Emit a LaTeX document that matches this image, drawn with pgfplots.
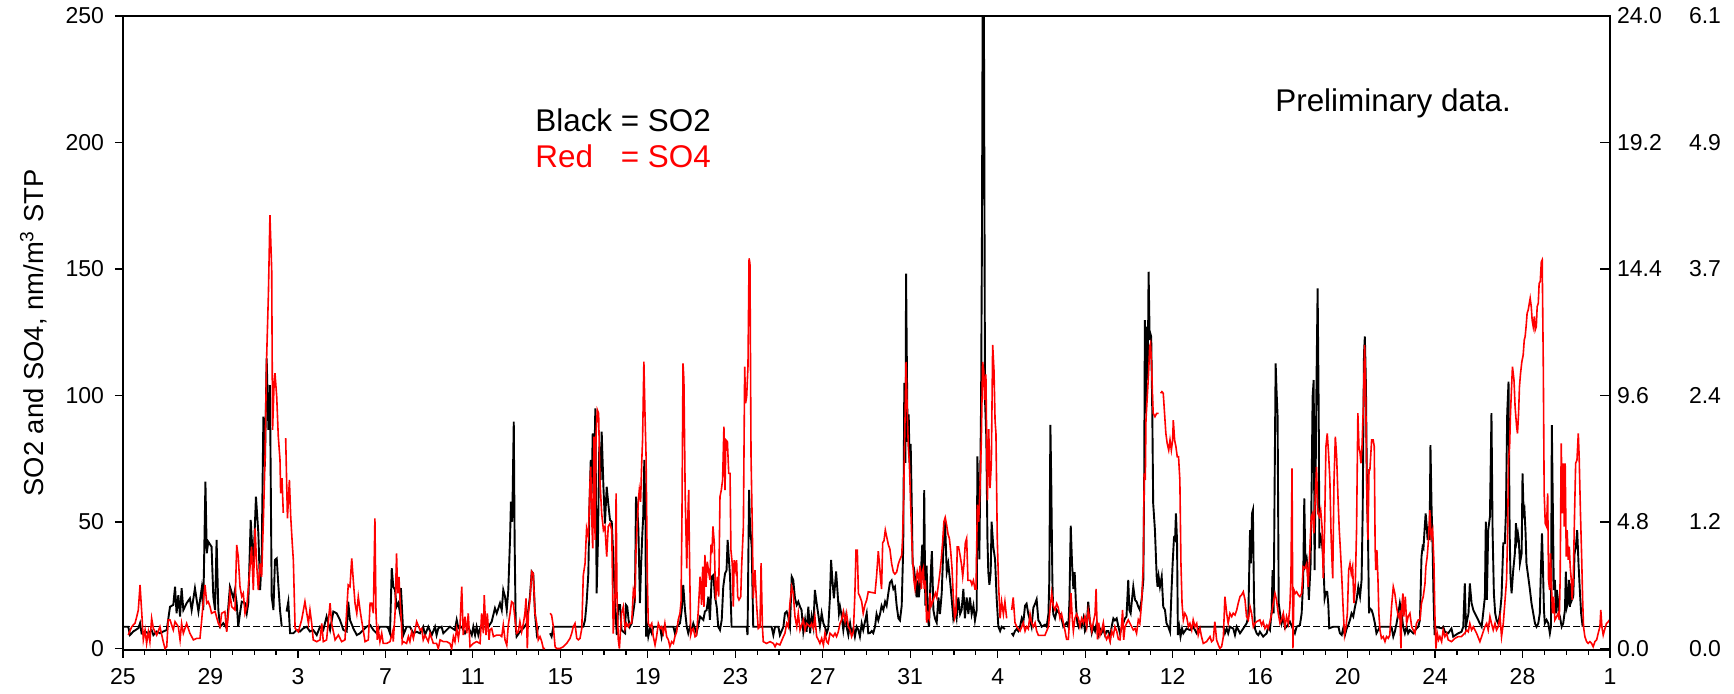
\documentclass[border=0pt]{standalone}
\usepackage{pgfplots}
\pgfplotsset{compat=1.18}
\usepackage{fontspec}
\setmainfont{Liberation Sans}
\usepackage{calc}
\begin{document}
\begin{tikzpicture}
\path[use as bounding box] (-61.5pt,-22pt) rectangle (805.5pt,325pt);
\begin{axis}[
  at={(0,0)}, anchor=south west,
  scale only axis, width=743.5pt, height=317pt,
  xmin=0, xmax=68, ymin=-0.6, ymax=250,
  xtick={0,4,...,68},
  xticklabels={25,29,3,7,11,15,19,23,27,31,4,8,12,16,20,24,28,1},
  minor x tick num=3,
  ytick={0,50,...,250},
  xtick pos=left, ytick pos=left,
  tick align=outside,
  major tick length=4pt, minor tick length=2.5pt,
  every tick/.style={black, line width=0.6pt},
  axis line style={line width=0.7pt},
  ticklabel style={font=\fontsize{11.5}{13}\selectfont},
  xticklabel style={font=\fontsize{11.5}{13}\selectfont, yshift=-4pt, inner sep=1pt},
  /pgf/number format/assume math mode=true,
  yticklabel style={xshift=-2pt},
  ylabel={SO2 and SO4, nm/m\textsuperscript{3} STP},
  ylabel style={font=\fontsize{13.7}{16}\selectfont, at={(axis description cs:-0.060,0.5)}, anchor=center},
  unbounded coords=jump,
  mark=none,
]
\addplot[black, line width=0.7pt, dash pattern=on 3.5pt off 1.5pt, forget plot] coordinates {(0,8.6)(68,8.6)};
\addplot[black, line width=0.95pt, mark=none] coordinates {
(0.02,8.6)(0.24,8.6)(0.32,5.3)(0.47,6.7)(0.70,8.0)(0.78,10)(0.85,6)(1.01,6.7)(1.16,6)(1.31,7.3)(1.39,5.3)(1.54,6.7)(1.69,6)(1.84,6.7)(2.00,7.3)(2.15,16.5)(2.30,17.2)(2.38,24.4)(2.45,13.9)(2.53,21.1)(2.61,12.6)(2.68,23.8)(2.76,15.2)(2.91,17.9)(3.06,19.8)(3.14,15.2)(3.29,23.8)(3.45,14.6)(3.60,23.8)(3.67,15.2)(3.77,65.9)(3.83,37.6)(3.90,42.2)(4.05,40.2)(4.13,20.5)(4.21,15.2)(4.28,42.9)(4.36,15.2)(4.44,8.6)(4.59,10)(4.74,8)(4.89,24.4)(5.05,19.8)(5.12,23.1)(5.20,17.9)(5.27,8.6)(5.35,13.9)(5.43,18.5)(5.58,17.9)(5.66,13.9)(5.73,17.9)(5.84,50.8)(5.96,32.3)(6.08,60.0)(6.19,45.5)(6.27,23.1)(6.34,35)(6.42,91.6)(6.49,71.9)(6.57,114.7)(6.65,86.4)(6.72,104.1)(6.80,20.5)(6.88,15.2)(6.95,35)(7.03,35.6)(7.10,25.7)(7.18,15.2)(7.26,8.6)(7.35,nan)(7.48,14.6)(7.56,18.5)(7.64,6)(7.79,6)(7.94,7.3)(8.09,6.7)(8.25,8)(8.40,8.6)(8.55,6.7)(8.70,7.3)(8.86,5.3)(9.01,8.6)(9.16,7.3)(9.31,12.6)(9.47,7.3)(9.62,14.6)(9.77,13.9)(9.92,11.3)(10.08,7.3)(10.23,6.7)(10.30,18.5)(10.38,11.3)(10.53,8)(10.69,5.3)(10.84,6)(10.99,7.3)(11.14,8.6)
(11.30,9.3)(11.45,7.3)(11.60,6)(11.75,8.6)(12.06,8.6)(12.13,8)(12.21,6)(12.29,31.7)(12.36,24.4)(12.44,23.1)(12.51,16.5)(12.59,17.9)(12.67,13.9)(12.71,23.8)(12.77,13.9)(12.82,5.3)(12.97,8.6)(13.12,8.6)(13.28,6)(13.43,6.6)(13.58,6)(13.73,8.6)(13.81,5.3)(13.96,8.6)(14.12,5.3)(14.27,8.6)(14.34,5.3)(14.42,8)(14.57,8.6)(14.65,6)(14.80,7.3)(14.95,8.6)(15.18,7.3)(15.26,11.3)(15.34,8)(15.49,8.6)(15.64,6)(15.79,8.6)(15.95,5.3)(16.02,8.6)(16.10,5.3)(16.17,8.6)(16.25,5.3)(16.33,8)(16.48,8.6)(16.71,8.6)(16.86,10.6)(17.01,15.9)(17.09,13.9)(17.24,17.9)(17.32,15.2)(17.39,23.1)(17.47,20.5)(17.55,15.2)(17.62,23.1)(17.70,43.5)(17.74,58)(17.80,50.1)(17.87,89.7)(17.91,41.6)(17.96,8.6)(18.00,4.7)(18.15,6.6)(18.31,8)(18.46,9.9)(18.61,20.5)(18.69,30.4)(18.76,29.6)(18.84,13.9)(18.92,6)(18.99,8.6)(19.2,nan)(19.53,6)(19.60,4.7)(19.68,8.6)(21.05,8.6)(21.13,11.3)(21.20,17.9)(21.28,29.6)(21.33,56)(21.39,74.5)(21.43,61.3)(21.48,85)(21.54,66.6)(21.60,94.9)(21.66,21.8)(21.72,42.9)(21.78,79.8)(21.84,66.6)(21.89,85.7)(21.97,63.9)(22.04,49.4)(22.12,63.9)(22.19,57.4)(22.27,50.8)(22.35,50.1)(22.42,36.3)(22.50,17.9)(22.58,5.3)(22.65,17.2)
(22.73,17.2)(22.80,7.3)(22.88,6.6)(22.96,6)(23.00,17.2)(23.06,16.5)(23.12,11.3)(23.18,8.6)(23.26,9.9)(23.34,14.6)(23.41,19.2)(23.46,60)(23.52,55.4)(23.57,46.8)(23.64,17.9)(23.69,32.3)(23.75,45.5)(23.79,52.1)(23.84,74.5)(23.89,53.4)(23.92,4.7)(23.98,8)(24.02,4.7)(24.10,8)(24.18,6)(24.25,8.6)(24.56,8.6)(24.63,4.7)(24.71,8.6)(25.17,8.6)(25.24,6)(25.32,8.6)(25.47,9.9)(25.55,15.2)(25.62,25.1)(25.70,15.2)(25.78,8.6)(25.85,6)(25.93,8.6)(26.00,7.3)(26.08,9.9)(26.23,6)(26.39,12.6)(26.54,11.3)(26.61,14.6)(26.69,15.2)(26.77,20.5)(26.84,11.3)(26.92,28.3)(27.00,29)(27.07,20.5)(27.15,16.5)(27.22,8.6)(27.30,7.3)(27.38,11.3)(27.45,24.4)(27.53,29.6)(27.60,30.9)(27.65,42.9)(27.71,35)(27.76,28.4)(27.83,8.6)(28.52,8.6)(28.56,5.3)(28.63,62.7)(28.67,49.5)(28.75,40.2)(28.82,8.6)(29.66,8.6)(29.74,5.3)(29.82,8.6)(29.97,8.6)(30.04,5.3)(30.20,8.6)(30.27,13.9)(30.35,14.6)(30.42,12.6)(30.50,8.6)(30.58,28.4)(30.65,27.1)(30.73,19.8)(30.81,17.2)(30.88,18.5)(30.96,16.5)(31.03,15.2)(31.11,6.6)(31.19,11.3)(31.26,6.6)(31.34,16.5)(31.42,6)(31.49,12.6)(31.57,8.6)(31.64,23.1)(31.72,17.9)(31.80,13.2)(31.87,8.6)(31.95,13.9)(32.03,9.9)(32.10,8.6)(32.18,6)(32.25,7.9)(32.33,20.5)(32.38,35)(32.44,27.1)(32.51,19.8)(32.61,30.4)(32.67,23.1)(32.74,13.9)(32.79,16.5)(32.86,13.2)(32.94,7.3)(33.02,12.6)(33.09,8.6)(33.17,5.3)(33.25,9.9)(33.32,6)(33.40,8)(33.47,4.7)(33.55,8.6)(33.63,7.3)(33.70,4.7)(33.78,9.9)(33.85,7.3)(34.01,13.9)(34.08,6)
(34.16,6.1)(34.24,6.9)(34.31,6.1)(34.39,8.6)(34.46,13.6)(34.54,11.1)(34.62,13.6)(34.69,16.9)(34.77,15.2)(34.85,18.5)(34.92,16.9)(35.00,21.9)(35.07,26.0)(35.15,26.9)(35.23,23.5)(35.30,24.4)(35.38,16.9)(35.46,11.9)(35.53,11.1)(35.61,16.9)(35.68,40.1)(35.73,105)(35.78,73.4)(35.81,148.2)(35.84,118.3)(35.88,81.7)(35.93,92.5)(35.97,73.4)(36.02,80.9)(36.07,56.8)(36.11,33.5)(36.17,31.8)(36.23,26.9)(36.29,20.2)(36.34,26.9)(36.39,20.2)(36.45,25.2)(36.49,30.2)(36.55,41)(36.60,26.9)(36.64,62.6)(36.69,16.9)(36.75,32.7)(36.80,11.9)(36.86,8.6)(36.90,20.2)(36.95,31.8)(36.99,38.5)(37.06,15.2)(37.13,11.9)(37.21,10.2)(37.29,20.2)(37.36,13.6)(37.44,21.9)(37.51,38.5)(37.59,50.9)(37.67,30.2)(37.74,33.5)(37.82,26.9)(37.89,20.2)(37.97,11.9)(38.05,15.2)(38.12,11.9)(38.20,20.2)(38.28,13.6)(38.35,15.2)(38.43,23.5)(38.50,11.9)(38.58,20.2)(38.66,13.6)(38.73,20.2)(38.81,13.6)(38.89,16.9)(38.96,11.1)(39.04,15.2)(39.07,75.9)(39.11,63.4)(39.16,35.2)(39.24,96.7)(39.28,163.2)(39.31,250)(39.37,250)(39.42,98.3)(39.48,83.4)(39.53,43.5)(39.57,30.2)(39.62,25.2)(39.68,30.2)(39.72,50.1)(39.80,40.1)(39.88,35.2)(39.95,20.2)(40.03,8.6)(40.11,6.9)(40.18,8.6)(40.33,7.7)(40.48,nan)(40.64,6.1)(40.71,5.2)(40.79,6.9)(40.87,7.7)(40.94,6.9)(41.02,8.6)(41.10,11.9)(41.17,10.2)(41.25,16.9)(41.32,17.7)(41.40,13.6)(41.48,11.1)(41.55,8.6)(41.63,16.1)(41.71,17.7)(41.78,19.4)(41.86,11.1)(41.93,10.2)(42.01,8.6)(42.16,9.4)(42.24,8.6)(42.32,13.6)(42.36,26.9)(42.41,88.4)(42.45,65.1)(42.50,26.9)(42.54,13.6)(42.62,11.9)(42.70,15.2)(42.77,14.4)(42.85,13.6)(42.92,11.9)(43.00,8.6)(43.15,10.2)(43.23,8.6)(43.28,18.5)(43.34,48.5)(43.40,33.5)(43.46,23.5)(43.52,30.2)(43.58,16.9)(43.64,10.2)(43.70,8.6)(43.76,10.2)(43.84,8.6)(43.92,11.9)(43.99,6.9)(44.07,8.6)(44.14,18.5)(44.22,10.2)(44.30,6.1)(44.37,8.6)(44.45,6.9)(44.53,10.2)(44.60,5.2)(44.68,7.7)(44.75,6.1)(44.83,7.7)(44.91,5.2)(44.98,6.9)(45.06,6.9)(45.14,3.6)(45.21,8.6)(45.29,11.9)(45.36,11.1)(45.44,11.9)(45.52,8.6)
(45.59,6)(45.74,9.9)(45.82,11.9)(45.89,12.6)(45.97,27.1)(46.02,15.2)(46.08,13.9)(46.14,19.2)(46.20,24.4)(46.28,19.2)(46.35,18.5)(46.43,16.5)(46.50,15.2)(46.58,19.2)(46.66,27.1)(46.70,68.6)(46.73,129.8)(46.78,92.9)(46.81,127.2)(46.86,106.1)(46.90,148.9)(46.95,121.9)(46.98,124.5)(47.02,123.2)(47.07,92.9)(47.11,57.4)(47.19,46.8)(47.27,28.4)(47.31,24.4)(47.36,28.4)(47.42,24.4)(47.50,28.4)(47.57,16.5)(47.65,15.2)(47.72,9.9)(47.80,8.6)(47.88,6.6)(47.95,23.1)(48.00,33.6)(48.06,43.5)(48.11,42.9)(48.15,53.4)(48.20,42.9)(48.24,5.3)(48.30,8.6)(48.36,4.7)(48.43,7.9)(48.49,6)(48.64,7.9)(48.79,7.3)(48.94,8.6)(49.10,6)(49.25,8.6)(50.32,8.6)(50.39,6)(50.47,7.9)(50.54,6)(50.62,8.6)(50.77,7.9)(50.85,5.3)(50.93,8.6)(51.08,6)(51.23,7.9)(51.38,9.9)(51.46,12.6)(51.54,46.8)(51.58,33.6)(51.63,53.4)(51.67,54.7)(51.72,20.5)(51.76,8)(51.84,6)(51.92,5.3)(51.99,6.6)(52.14,4.7)(52.30,6)(52.37,8.6)(52.45,7.3)(52.53,15.2)(52.57,31)(52.62,13.9)(52.66,60.6)(52.71,112.7)(52.75,102.2)(52.80,91.6)(52.85,17.9)(52.91,13.9)(52.98,9.9)(53.06,12.6)(53.14,8)(53.21,8.6)(53.36,10.6)(53.52,7.3)(53.59,6)(53.67,8.6)(53.82,9.2)(53.90,13.9)(53.97,27.1)(54.02,59.3)(54.07,33.6)(54.13,35.6)(54.17,32.3)(54.23,19.2)(54.31,33.6)(54.36,66.6)(54.40,99.5)(54.45,106.1)(54.49,31)(54.54,69.2)(54.58,106.1)(54.63,142.3)(54.68,92.9)(54.71,39.6)(54.75,44.9)(54.81,43.5)(54.89,35.6)(54.95,19.8)(55.01,22.4)(55.07,22.4)(55.12,17.2)(55.16,8)(55.35,8.6)(55.58,8.6)(55.65,6)(55.73,5.3)(55.80,7.9)(55.88,5.3)(55.96,7.9)(56.03,9.2)(56.11,11.3)(56.18,13.9)(56.26,12.6)(56.34,16.5)(56.41,19.2)(56.49,24.4)(56.57,20.5)(56.64,27.1)(56.69,53.4)(56.75,116.6)(56.79,123.3)(56.84,103.5)(56.89,58.7)(56.93,46.8)(56.98,13.9)
(57.02,15.9)(57.10,15.2)(57.17,13.2)(57.25,9.9)(57.32,6)(57.48,8.6)(58.01,8.6)(58.09,4.7)(58.16,6.6)(58.24,9.9)(58.32,13.9)(58.39,17.9)(58.47,13.9)(58.54,8.6)(58.62,6)(58.70,8.6)(58.77,6)(58.85,7.3)(59.00,6)(59.15,7.9)(59.23,8.6)(59.31,11.3)(59.38,36.3)(59.43,40.2)(59.47,39.6)(59.52,46.8)(59.57,53.4)(59.61,49.4)(59.66,42.9)(59.70,48.2)(59.75,42.9)(59.79,80.4)(59.84,56)(59.89,38.9)(59.93,20.5)(59.98,5.3)(60.02,8.6)(60.30,8)(60.37,8.6)(60.45,6.6)(60.60,6)(60.75,7.9)(60.83,4.7)(61.06,6)(61.21,6.6)(61.29,8.6)(61.36,25.7)(61.41,8.6)(61.47,11.3)(61.53,13.9)(61.59,25.7)(61.67,17.9)(61.75,15.2)(61.82,13.9)(61.90,12.6)(61.97,11.3)(62.05,9.9)(62.13,8.6)(62.20,13.9)(62.28,20.5)(62.32,50.1)(62.37,19.2)(62.43,46.8)(62.51,52.1)(62.58,93)(62.63,46.8)(62.69,21.8)(62.75,13.9)(62.81,11.3)(62.89,9.9)(62.97,13.9)(63.04,20.5)(63.12,41.6)(63.19,41.6)(63.24,53.4)(63.30,93)(63.36,105.5)(63.41,46.8)(63.45,28.4)(63.50,21.8)(63.57,30.4)(63.65,37.6)(63.70,49.5)(63.74,42.9)(63.79,45.5)(63.83,42.9)(63.88,33.6)(63.96,37.6)(64.00,69.2)(64.05,53.4)(64.09,54.7)(64.14,45.5)(64.18,33.6)(64.26,28.4)(64.34,23.1)(64.41,17.9)(64.49,13.9)(64.57,9.9)(64.64,8.6)(64.72,9.9)(64.79,13.9)(64.84,31)(64.89,45.5)(64.93,33.6)(64.98,15.2)(65.02,9.9)(65.10,11.3)(65.18,9.9)(65.25,6)(65.30,8.6)(65.34,88.3)(65.39,53.4)(65.43,23.1)(65.48,27.1)(65.53,13.9)(65.57,23.1)(65.62,19.2)(65.66,13.9)(65.71,12.6)(65.79,8.6)(65.86,9.9)(65.94,15.2)(65.98,30.4)(66.03,16.5)(66.07,17.9)(66.12,27.1)(66.17,16.5)(66.21,25.7)(66.26,19.2)(66.32,20.5)(66.38,37.6)(66.44,40.2)(66.50,46.8)(66.56,33.6)(66.62,23.1)(66.68,13.9)(66.75,8.6)
};
\addplot[red, line width=0.8pt, mark=none] coordinates {
(0.24,5.3)(0.40,8.6)(0.55,10)(0.63,12.6)(0.70,15.2)(0.78,25.1)(0.85,15.2)(0.93,3.4)(1.01,7.3)(1.08,2)(1.16,6.6)(1.23,2.7)(1.31,11.9)(1.39,7.9)(1.54,5.3)(1.69,8.6)(1.84,2.7)(1.92,0)(2.00,0.7)(2.07,11.3)(2.15,11.3)(2.30,7.3)(2.38,10.6)(2.53,8.6)(2.61,3.4)(2.68,9.9)(2.76,6)(2.91,9.9)(3.06,6)(3.22,3.4)(3.37,4)(3.52,4)(3.60,11.3)(3.67,18.5)(3.75,25.1)(3.83,17.9)(3.90,18.5)(3.98,16.5)(4.05,13.9)(4.21,14.6)(4.36,9.9)(4.44,8.6)(4.51,13.9)(4.66,14.6)(4.74,6.6)(4.82,13.9)(4.89,21.8)(4.97,16.5)(5.12,15.2)(5.20,40.9)(5.27,36.3)(5.35,24.4)(5.43,20.5)(5.50,21.8)(5.58,13.9)(5.66,16.5)(5.73,23.8)(5.88,40.2)(5.96,23.1)(6.04,47.5)(6.11,33.6)(6.19,23.1)(6.27,33.6)(6.34,28.3)(6.42,50.8)(6.49,73.2)(6.57,115.3)(6.65,140.3)(6.72,171.3)(6.80,149.6)(6.84,86.4)(6.91,104.8)(6.95,108.8)(7.03,99.5)(7.10,84)(7.18,74.5)(7.21,61.3)(7.27,67.3)(7.33,53.6)(7.38,nan)(7.44,83.1)(7.52,51.4)(7.61,66.6)(7.67,52.1)(7.74,41.6)(7.79,34.9)(7.87,8)(8.02,6.6)(8.17,11.3)(8.32,18.5)(8.48,9.9)(8.55,15.2)(8.63,9.9)(8.70,3.4)(8.86,2.7)(9.01,3.4)(9.09,9.9)(9.16,2.7)(9.31,3.4)(9.47,17.9)(9.54,9.9)(9.70,3.4)(9.85,5.3)(10.00,2.7)(10.15,3.4)(10.30,25.1)(10.38,24.4)(10.46,35.6)(10.53,27.1)(10.61,17.9)(10.69,13.9)(10.76,20.5)(10.84,15.2)(10.91,11.3)(11.07,2.7)(11.22,3.4)(11.30,17.9)
(11.37,17.9)(11.45,13.9)(11.52,51.4)(11.57,13.9)(11.63,3.4)(11.68,7.3)(11.75,2.7)(11.83,6)(11.90,2)(12.06,2)(12.21,2.7)(12.33,6.6)(12.36,2.7)(12.44,13.9)(12.51,37.6)(12.56,21.8)(12.62,28.3)(12.67,19.2)(12.71,13.9)(12.77,2)(12.82,2.7)(12.97,2)(13.05,4.7)(13.12,2.7)(13.20,6.6)(13.28,4)(13.43,10.6)(13.58,7.3)(13.66,7.9)(13.73,3.4)(13.81,5.3)(13.96,2.7)(14.04,6)(14.19,2)(14.34,2)(14.42,0)(14.50,3.4)(14.65,2.7)(14.80,2.7)(14.95,2)(15.03,0)(15.11,4.7)(15.18,2.7)(15.26,7.9)(15.34,4)(15.41,8.6)(15.49,24.4)(15.56,5.3)(15.64,12.6)(15.72,6)(15.79,13.9)(15.87,0.7)(15.94,1.3)(16.02,2)(16.17,2.7)(16.33,2)(16.40,13.9)(16.48,6)(16.52,21.1)(16.60,5.3)(16.66,13.9)(16.74,3.4)(16.78,7.3)(16.86,7.9)(16.94,4.7)(17.09,5.3)(17.24,5.3)(17.32,4.7)(17.39,9.3)(17.47,3.4)(17.55,1.3)(17.62,9.3)(17.70,13.9)(17.77,18.5)(17.85,17.9)(17.93,11.3)(18.00,6)(18.08,6.6)(18.15,10.6)(18.23,6.6)(18.31,9.9)(18.38,13.9)(18.43,19.8)(18.49,0)(18.54,13.9)(18.61,19.2)(18.69,30.4)(18.76,29.6)(18.84,13.9)(18.92,9.9)(18.99,3.4)(19.07,4.7)(19.15,2.7)(19.22,0)(19.30,0)(19.4,nan)(19.53,13.9)(19.60,13.2)(19.68,8.6)(19.76,0.7)(19.83,0)(19.98,0)(20.14,0.7)(20.29,2)(20.44,4)(20.52,6)(20.59,8.6)(20.67,9.9)(20.75,4)(20.82,3.4)(20.90,4)(20.98,7.9)(21.05,29)(21.13,33.6)(21.20,47.5)(21.28,44.2)(21.36,66.6)(21.39,71.9)(21.43,53.4)(21.48,39.6)(21.54,83.7)(21.59,42.9)(21.63,83.7)(21.69,94.3)(21.75,92.9)(21.81,66.6)(21.89,53.4)(21.97,46.8)(22.04,48.2)(22.12,36.3)(22.19,48.2)(22.27,49.4)(22.35,46.8)(22.42,5.9)(22.50,20.5)(22.55,61.3)(22.59,20.5)(22.65,3.4)(22.70,0)
(22.80,13.9)(22.88,16.5)(22.96,7.9)(23.03,9.9)(23.11,8.6)(23.18,9.9)(23.26,9.9)(23.34,23.1)(23.41,20.5)(23.46,38.9)(23.52,49.5)(23.57,58.7)(23.61,62.6)(23.67,58)(23.72,73.2)(23.76,82.4)(23.82,113.4)(23.87,92.9)(23.92,75.8)(23.98,27)(24.02,9.9)(24.10,8.6)(24.18,9.9)(24.25,4.7)(24.33,1.4)(24.40,4.7)(24.48,9.9)(24.56,7.9)(24.63,8.6)(24.71,6)(24.78,9.9)(24.86,4.7)(24.94,3.4)(25.01,0.7)(25.09,2.7)(25.17,2)(25.24,4.7)(25.32,6.6)(25.39,11.3)(25.47,13.9)(25.52,18.5)(25.56,50.8)(25.61,112.7)(25.65,106.1)(25.71,60)(25.78,31.7)(25.82,49.5)(25.87,62.7)(25.90,40.2)(25.96,5.3)(26.02,7.3)(26.08,7.9)(26.16,4.7)(26.23,5.3)(26.31,15.2)(26.39,28.4)(26.46,17.2)(26.51,32.3)(26.57,16.5)(26.61,37)(26.66,24.4)(26.72,34.3)(26.77,31)(26.84,27.1)(26.89,41)(26.93,37.6)(26.98,48.2)(27.04,41.6)(27.10,19.2)(27.18,28.4)(27.24,20.5)(27.30,60)(27.36,62.6)(27.42,66.6)(27.48,87.7)(27.53,62.6)(27.57,82.4)(27.64,81.7)(27.70,69.2)(27.76,69.2)(27.80,38.9)(27.86,33.6)(27.91,16.5)(27.95,34.9)(28.02,31)(28.06,34.9)(28.11,20.5)(28.17,19.2)(28.25,20.5)(28.29,32.3)(28.37,48.2)(28.43,111.4)(28.47,96.9)(28.52,99.5)(28.58,111.4)(28.63,154.2)(28.67,152.2)(28.72,75.8)(28.78,46.8)(28.82,19.8)(28.90,31)(28.98,16.5)(29.05,7.9)(29.13,8.6)(29.18,33.7)(29.24,8.6)(29.28,2.7)(29.43,2)(29.59,2.7)(29.74,2)(29.82,0.7)(29.89,2)(30.04,1.4)(30.20,4.7)(30.27,6)(30.35,9.9)(30.42,8.6)(30.50,17.9)(30.58,24.4)(30.65,21.8)(30.73,12.6)(30.81,8.6)(30.88,13.9)(30.96,7.3)(31.11,11.3)(31.19,7.3)(31.26,9.9)(31.42,8.6)(31.49,9.9)(31.57,7.9)(31.64,12.6)(31.72,4.7)(31.80,3.4)(31.87,2)(31.95,4)(32.03,1.4)(32.10,6)(32.18,2.7)(32.25,2)(32.33,6)(32.48,4.7)(32.56,6)(32.63,4.7)(32.71,6.6)(32.79,9.9)(32.86,11.3)(32.94,14.6)(33.02,10.6)(33.09,13.9)(33.17,8.6)(33.25,7.3)(33.32,4.7)(33.40,6.6)(33.47,21.8)(33.52,38.9)(33.58,38.9)(33.63,21.8)(33.70,20.5)(33.78,18.5)(33.85,13.9)(33.93,17.2)(34.01,19.2)(34.08,22.4)
(34.39,21.9)(34.46,28.5)(34.54,38.5)(34.59,33.5)(34.65,26.9)(34.69,23.5)(34.74,41.8)(34.80,42.6)(34.86,46.8)(34.92,44.3)(35.00,41)(35.07,39.3)(35.15,33.5)(35.23,30.2)(35.30,29.4)(35.38,30.2)(35.46,33.5)(35.53,35.2)(35.61,36.8)(35.65,43.5)(35.70,60.1)(35.76,90)(35.81,113.3)(35.85,98.3)(35.91,80)(35.96,73.4)(36.02,56.8)(36.07,43.5)(36.11,35.2)(36.17,26.9)(36.22,23.5)(36.26,26)(36.32,30.2)(36.39,26.9)(36.45,32.7)(36.51,23.5)(36.55,30.2)(36.60,31.8)(36.64,23.5)(36.69,26.9)(36.75,10.2)(36.80,13.6)(36.86,11.9)(36.90,21.9)(36.96,16.9)(37.03,18.5)(37.09,20.2)(37.15,21.9)(37.21,20.2)(37.29,25.2)(37.36,30.2)(37.42,35.2)(37.48,41.8)(37.54,50.1)(37.60,51.8)(37.67,48.5)(37.73,45.1)(37.79,43.5)(37.85,38.5)(37.91,31.8)(37.97,20.2)(38.03,11.9)(38.09,13.6)(38.15,40.1)(38.21,40.1)(38.28,36.8)(38.34,33.5)(38.40,28.5)(38.46,33.5)(38.52,41.8)(38.58,43.5)(38.64,26.9)(38.76,26.9)(38.82,25.2)(38.89,26.9)(38.96,23.5)(39.01,23.5)(39.07,56.8)(39.13,50.1)(39.19,63.4)(39.25,81.7)(39.31,113.3)(39.36,109.9)(39.40,98.3)(39.46,108.3)(39.53,58.5)(39.59,86.7)(39.65,63.4)(39.71,73.4)(39.77,120)(39.83,109.9)(39.88,90)(39.92,85)(39.98,43.5)(40.04,25.2)(40.11,11.9)(40.18,18.5)(40.26,13.6)(40.33,18.5)(40.41,11.9)(40.52,nan)(40.64,15.2)(40.71,20.2)(40.79,10.2)(40.87,8.6)(41.02,6.9)(41.10,8.6)(41.17,10.2)(41.25,6.9)(41.32,8.6)(41.40,7.7)(41.48,13.6)(41.55,10.2)(41.63,8.6)(41.71,10.2)(41.78,6.9)(41.86,5.2)(42.01,5.2)(42.16,5.2)(42.24,6.9)(42.32,8.6)(42.39,15.2)(42.47,21.9)(42.54,16.9)(42.62,15.2)(42.70,17.7)(42.77,16.1)(42.85,11.9)(42.92,13.6)(43.00,10.2)(43.08,6.9)(43.15,3.6)(43.23,3.6)(43.31,14.4)(43.35,21.9)(43.41,11.9)(43.46,6.9)(43.53,11.9)(43.61,13.6)(43.69,11.9)(43.76,8.6)(43.84,11.9)(43.92,10.2)(43.99,12.7)(44.07,8.6)(44.14,15.2)(44.22,11.1)(44.30,6.9)(44.37,10.2)(44.45,13.6)(44.50,23.5)(44.56,3.6)(44.62,10.2)(44.68,5.2)(44.75,6.9)(44.83,10.2)(44.91,5.2)(44.98,3.6)(45.06,5.2)(45.14,2.7)(45.21,6.9)(45.29,5.2)(45.36,8.6)(45.44,6.9)(45.52,3.6)
(45.59,3.4)(45.67,9.9)(45.71,15.2)(45.76,3.4)(45.82,8.6)(45.97,11.3)(46.05,9.9)(46.20,7.3)(46.28,7.9)(46.35,6)(46.43,11.3)(46.50,9.9)(46.58,17.9)(46.66,33.6)(46.70,69.2)(46.75,66.6)(46.78,90.3)(46.84,99.5)(46.90,108.8)(46.95,119.3)(46.99,120.6)(47.04,111.4)(47.08,99.5)(47.11,93)(47.19,91.6)(47.27,92.9)(47.36,92.9)(47.40,nan)(47.45,100.9)(47.51,101.5)(47.57,100.9)(47.63,93)(47.69,85)(47.75,81.1)(47.82,78.4)(47.88,82.4)(47.94,78.4)(48.00,82.4)(48.03,90.2)(48.09,82.4)(48.15,79.8)(48.21,75.8)(48.27,75.8)(48.33,66.6)(48.38,33.6)(48.43,17.9)(48.49,11.3)(48.56,13.9)(48.64,12.6)(48.72,8.6)(48.79,9.9)(48.87,7.3)(48.94,11.3)(49.02,8.6)(49.10,9.9)(49.17,5.3)(49.25,7.9)(49.32,4.7)(49.40,2)(49.55,2.7)(49.71,4.7)(49.78,2.7)(49.86,3.4)(49.93,10.6)(50.01,3.4)(50.09,1.4)(50.16,0)(50.24,0.7)(50.32,4.7)(50.39,20.5)(50.47,13.9)(50.54,9.9)(50.62,13.9)(50.70,12.6)(50.77,13.9)(50.85,13.2)(50.93,15.2)(51.00,17.9)(51.08,20.5)(51.15,21.1)(51.23,22.4)(51.31,19.2)(51.38,12.6)(51.46,11.3)(51.54,16.5)(51.61,13.9)(51.69,8.6)(51.76,9.9)(51.84,10.6)(51.99,11.3)(52.07,9.2)(52.14,10.6)(52.22,7.9)(52.30,9.2)(52.37,7.9)(52.45,10.6)(52.53,13.9)(52.60,17.9)(52.68,21.8)(52.75,19.2)(52.83,13.9)(52.91,9.9)(52.98,11.3)(53.06,13.9)(53.14,8.6)(53.21,12.6)(53.29,9.9)(53.36,16.5)(53.41,28.4)(53.46,71.2)(53.50,0)(53.55,23.1)(53.61,21.8)(53.67,22.4)(53.75,21.1)(53.82,20.5)(53.90,21.8)(53.97,32.3)(54.05,31.7)(54.13,33.6)(54.20,24.4)(54.28,40.2)(54.34,52.1)(54.40,53.4)(54.46,45.5)(54.52,59.9)(54.58,71.8)(54.64,53.4)(54.71,52.1)(54.77,54.7)(54.83,48.2)(54.89,27.7)(54.95,48.2)(55.01,79.8)(55.07,85)(55.13,77.1)(55.19,66.6)(55.25,42.9)(55.32,27.7)(55.38,66.6)(55.44,83.7)(55.50,75.8)(55.56,60)(55.62,46.8)(55.68,37.6)(55.74,27.1)(55.80,15.2)(55.86,5.3)(55.93,8.6)(55.99,13.9)(56.05,31)(56.11,33.6)(56.17,29.6)(56.23,32.3)(56.29,17.9)(56.35,24.4)(56.41,46.8)(56.47,93)(56.52,79.8)(56.57,77.1)(56.61,73.2)(56.66,79.8)(56.72,95.6)(56.78,120)(56.82,104.8)(56.89,58.7)(56.93,42.9)(56.98,70.6)
(57.02,70.6)(57.10,82.4)(57.17,82.4)(57.22,79.8)(57.26,40.2)(57.29,31)(57.34,38.9)(57.39,27.1)(57.43,13.9)(57.48,7.3)(57.55,4)(57.63,4.7)(57.71,2.7)(57.78,4.7)(57.86,4)(57.93,5.3)(58.01,16.5)(58.09,24.4)(58.16,21.8)(58.24,16.5)(58.32,12.6)(58.39,13.9)(58.44,0)(58.48,16.5)(58.53,21.8)(58.57,12.6)(58.64,20.5)(58.70,9.9)(58.77,12.6)(58.85,13.9)(58.93,8.6)(59.00,7.3)(59.08,6)(59.15,9.9)(59.23,11.3)(59.31,11.3)(59.38,17.9)(59.46,20.5)(59.54,25.7)(59.58,32.3)(59.64,36.3)(59.70,42.9)(59.76,54.7)(59.82,44.2)(59.89,46.8)(59.95,33.6)(59.99,13.9)(60.04,0)(60.10,6)(60.16,3.4)(60.22,4.7)(60.30,2.7)(60.37,7.3)(60.45,4.7)(60.53,6)(60.60,3.4)(60.75,2.7)(60.91,4)(61.06,4.7)(61.21,4.7)(61.36,6)(61.44,7.3)(61.52,6.6)(61.59,9.9)(61.67,7.3)(61.75,8.6)(61.90,6)(62.05,2.7)(62.13,4.7)(62.20,6.6)(62.28,8.6)(62.36,9.9)(62.43,7.3)(62.51,12.6)(62.58,9.9)(62.66,7.3)(62.74,9.9)(62.81,7.3)(62.89,8.6)(62.97,12.6)(63.04,4.7)(63.12,9.9)(63.19,17.9)(63.27,27.1)(63.32,46.8)(63.36,74.5)(63.41,79.8)(63.45,93)(63.50,103.5)(63.54,111.4)(63.61,106.1)(63.66,95.6)(63.73,87.7)(63.77,85)(63.82,93)(63.86,103.5)(63.91,108.8)(63.97,113.4)(64.03,116)(64.08,122)(64.12,123.3)(64.17,127.9)(64.21,132.5)(64.26,133.8)(64.31,136.4)(64.35,138.4)(64.40,135.1)(64.44,129.8)(64.49,127.2)(64.54,131.2)(64.58,125.9)(64.63,127.2)(64.67,135.1)(64.72,136.4)(64.76,144.3)(64.81,145)(64.86,152.9)(64.90,153.6)(64.95,111.4)(64.99,61.3)(65.04,49.4)(65.10,48.2)(65.15,61.3)(65.19,27.1)(65.24,23.1)(65.28,37.6)(65.33,23.1)(65.37,13.9)(65.42,20.5)(65.48,11.3)(65.56,12.6)(65.63,13.9)(65.68,11.3)(65.72,27.1)(65.77,81.1)(65.82,53.4)(65.86,73.2)(65.91,48.2)(65.95,73.2)(66.00,36.3)(66.04,46.8)(66.09,35)(66.14,40.2)(66.18,32.3)(66.23,27.1)(66.27,19.2)(66.32,27.1)(66.38,53.4)(66.43,73.2)(66.49,74.5)(66.55,85)(66.59,75.8)(66.65,53.4)(66.70,37.6)(66.75,19.2)(66.79,8.6)(66.85,4.7)(66.93,2.7)(67.00,2)(67.08,2.7)(67.16,2)(67.23,0.7)(67.31,2.7)(67.39,3.4)(67.46,6)(67.54,8.6)(67.58,15.2)(67.63,8.6)(67.69,5.3)(67.77,7.9)(67.84,9.9)(67.92,10.6)(67.98,11.3)
};
\node[anchor=base west, inner sep=0pt, font=\fontsize{15.7}{18}\selectfont] at (axis cs:18.84,204.2) {Black = SO2};
\node[anchor=base west, inner sep=0pt, text=red, font=\fontsize{15.7}{18}\selectfont] at (axis cs:18.84,190.3) {\makebox[\widthof{Black }][l]{Red}= SO4};
\node[anchor=base west, inner sep=0pt, font=\fontsize{15.7}{18}\selectfont] at (axis cs:52.68,212.1) {Preliminary data.};
\end{axis}
\begin{axis}[
  at={(0,0)}, anchor=south west,
  scale only axis, width=743.5pt, height=317pt,
  xmin=0, xmax=68, ymin=-0.6, ymax=250,
  axis x line=none, axis y line*=right,
  ytick={0,50,...,250},
  yticklabels={\makebox[36pt][l]{0.0}0.0,\makebox[36pt][l]{4.8}1.2,\makebox[36pt][l]{9.6}2.4,\makebox[36pt][l]{14.4}3.7,\makebox[36pt][l]{19.2}4.9,\makebox[36pt][l]{24.0}6.1},
  tick align=inside, major tick length=5pt,
  every tick/.style={black, line width=0.6pt},
  axis line style={line width=0.7pt},
  yticklabel style={anchor=west, font=\fontsize{11.5}{13}\selectfont},
]
\addplot[draw=none] coordinates {(0,0)};
\end{axis}
\end{tikzpicture}
\end{document}
